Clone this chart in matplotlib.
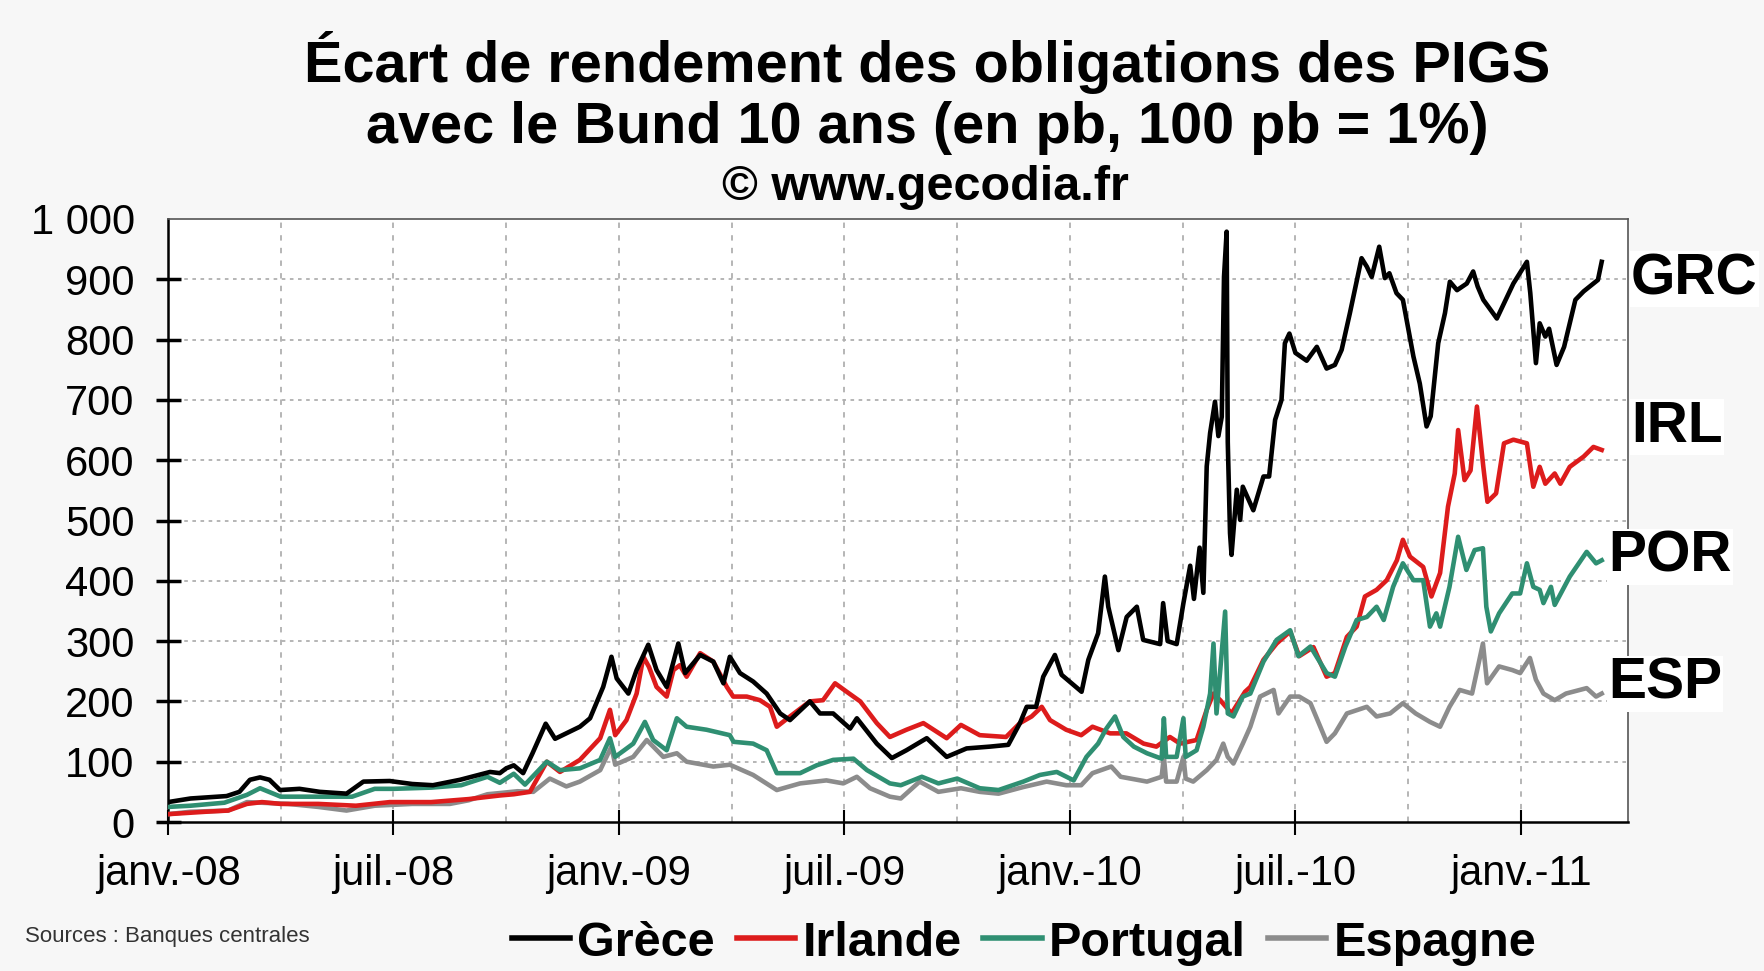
import matplotlib
matplotlib.use('Agg')
import matplotlib.pyplot as plt
import numpy as np

plt.rcParams['font.family'] = ['Liberation Sans', 'DejaVu Sans']

# x = mois écoulés depuis janv.-08
grc_x = [0.0, 0.6, 1.56, 1.9, 2.18, 2.45, 2.7, 2.98, 3.5, 4.04, 4.75, 5.2, 5.9, 6.5, 7.05, 7.77,
         8.57, 8.83, 9.0, 9.2, 9.45, 9.7, 10.05, 10.3, 10.96, 11.23, 11.58, 11.8, 11.94, 12.25,
         12.47, 12.78, 13.0, 13.27, 13.58, 13.76, 14.16, 14.51, 14.78, 14.95, 15.22, 15.57, 15.93,
         16.29, 16.55, 17.08, 17.35, 17.7, 18.15, 18.33, 18.86, 19.26, 19.65, 20.19, 20.72, 21.25,
         21.87, 22.36, 22.67, 22.85, 23.1, 23.29, 23.6, 23.78, 24.31, 24.49, 24.75, 24.93, 25.02,
         25.29, 25.51, 25.78, 25.95, 26.4, 26.48, 26.6, 26.84, 27.02, 27.2, 27.3, 27.45, 27.55,
         27.64, 27.73, 27.86, 27.95, 28.04, 28.1, 28.17, 28.2, 28.26, 28.3, 28.44, 28.53, 28.6,
         28.88, 29.15, 29.3, 29.46, 29.63, 29.72, 29.84, 30.0, 30.3, 30.57, 30.83, 31.05, 31.23,
         31.45, 31.76, 31.9, 32.03, 32.23, 32.38, 32.5, 32.69, 32.86, 33.14, 33.31, 33.49, 33.6,
         33.8, 33.98, 34.11, 34.3, 34.56, 34.73, 34.85, 35.0, 35.36, 35.8, 36.16, 36.25, 36.4,
         36.5, 36.65, 36.75, 36.95, 37.15, 37.45, 37.67, 37.93, 38.05, 38.15]
grc_y = [33, 39, 43, 50, 70, 74, 70, 53, 55, 50, 47, 67, 68, 63, 61, 70,
         83, 81, 89, 94, 81, 114, 163, 138, 158, 172, 224, 274, 238, 213,
         252, 294, 252, 224, 296, 247, 277, 266, 230, 274, 247, 233, 213,
         180, 169, 200, 180, 180, 155, 172, 130, 106, 119, 139, 108, 122,
         125, 128, 164, 191, 191, 241, 277, 244, 216, 269, 313, 407, 357,
         285, 340, 357, 302, 295, 363, 300, 295, 363, 425, 370, 455, 380,
         590, 645, 697, 640, 672, 904, 979, 630, 479, 443, 551, 501, 556,
         517, 573, 573, 667, 700, 794, 810, 778, 765, 788, 752, 758, 783,
         844, 935, 921, 904, 954, 902, 910, 877, 866, 772, 727, 656, 673,
         794, 844, 896, 882, 893, 913, 888, 866, 835, 893, 929, 877, 761,
         827, 805, 818, 758, 788, 866, 880, 893, 899, 929]

irl_x = [0, 0.5, 1.0, 1.6, 2.1, 2.5, 3.0, 4.0, 5.0, 5.9, 7.0, 8.0, 8.83, 9.2, 9.63, 10.08, 10.43,
         10.96, 11.5, 11.76, 11.9, 12.2, 12.47, 12.65, 12.8, 13.0, 13.27, 13.45, 13.62, 13.8,
         14.16, 14.51, 14.87, 15.04, 15.4, 15.75, 16.02, 16.2, 16.55, 17.08, 17.43, 17.75, 18.06,
         18.42, 18.86, 19.21, 19.65, 20.1, 20.72, 21.1, 21.6, 22.3, 22.67, 22.98, 23.25, 23.47,
         23.9, 24.3, 24.6, 25.07, 25.5, 25.96, 26.3, 26.66, 26.93, 27.37, 27.64, 27.82, 28.0,
         28.3, 28.66, 28.8, 29.15, 29.5, 29.86, 30.1, 30.48, 30.83, 31.05, 31.37, 31.63, 31.85,
         32.16, 32.43, 32.7, 32.86, 33.05, 33.4, 33.62, 33.85, 34.06, 34.24, 34.33, 34.5, 34.66,
         34.83, 35.0, 35.11, 35.34, 35.55, 35.8, 36.16, 36.33, 36.5, 36.65, 36.9, 37.05, 37.3,
         37.67, 37.93, 38.15]
irl_y = [13, 15, 17, 19, 30, 33, 30, 30, 27, 33, 33, 38, 44, 46, 50, 100, 83,
         103, 139, 186, 144, 169, 213, 274, 257, 224, 208, 252, 260, 241,
         280, 266, 224, 208, 208, 202, 191, 158, 175, 200, 202, 230, 216,
         200, 164, 141, 153, 164, 139, 161, 144, 141, 164, 175, 191, 169,
         153, 144, 158, 147, 147, 130, 125, 141, 130, 136, 186, 213, 202,
         180, 216, 224, 269, 296, 316, 275, 290, 241, 247, 307, 324, 374,
         385, 401, 434, 468, 440, 423, 374, 413, 523, 578, 650, 567, 583,
         689, 589, 531, 545, 628, 634, 628, 556, 589, 561, 578, 561, 589,
         606, 622, 617]

por_x = [0, 0.6, 1.5, 2.1, 2.45, 3.0, 4.0, 4.9, 5.5, 6.0, 7.0, 7.8, 8.5, 8.83, 9.2, 9.5, 10.08,
         10.43, 10.96, 11.5, 11.76, 11.9, 12.38, 12.69, 12.91, 13.27, 13.54, 13.8, 14.33, 14.95,
         15.05, 15.57, 15.93, 16.2, 16.82, 17.26, 17.7, 18.24, 18.6, 19.21, 19.5, 20.06, 20.5,
         21.0, 21.6, 22.1, 22.76, 23.2, 23.65, 24.1, 24.44, 24.75, 24.97, 25.2, 25.42, 25.7,
         26.05, 26.44, 26.5, 26.56, 26.84, 27.02, 27.08, 27.37, 27.55, 27.73, 27.82, 27.9, 28.0,
         28.13, 28.2, 28.35, 28.6, 28.8, 29.15, 29.5, 29.86, 30.08, 30.4, 30.83, 31.05, 31.33,
         31.63, 31.9, 32.16, 32.35, 32.6, 32.86, 33.14, 33.4, 33.58, 33.75, 33.85, 34.1, 34.33,
         34.55, 34.77, 34.99, 35.08, 35.2, 35.42, 35.77, 35.98, 36.16, 36.33, 36.5, 36.6, 36.8,
         36.9, 37.3, 37.75, 38.0, 38.15]
por_y = [25, 27, 32, 45, 56, 42, 42, 42, 55, 55, 57, 61, 75, 65, 80, 62, 100,
         86, 89, 103, 139, 108, 130, 166, 136, 119, 172, 158, 153, 144,
         133, 130, 119, 81, 81, 94, 103, 105, 86, 64, 61, 75, 64,
         72, 56, 53, 67, 78, 83, 69, 108, 130, 155, 175, 141, 125,
         114, 105, 172, 108, 108, 172, 108, 119, 158, 213, 296, 180, 252,
         349, 180, 175, 208, 213, 266, 302, 318, 275, 291, 247, 241, 291,
         335, 340, 357, 335, 390, 429, 401, 401, 324, 346, 324, 390, 473,
         418, 451, 454, 357, 316, 346, 379, 379, 429, 390, 385, 363, 390,
         360, 407, 448, 429, 434]

esp_x = [0, 0.6, 1.6, 2.1, 3.2, 4.0, 4.75, 5.5, 6.5, 7.5, 8.0, 8.5, 8.83, 9.3, 9.72, 10.16, 10.6,
         10.96, 11.5, 11.8, 11.9, 12.38, 12.74, 13.18, 13.54, 13.8, 14.51, 14.95, 15.57, 16.2,
         16.82, 17.52, 17.97, 18.33, 18.68, 19.21, 19.5, 20.0, 20.5, 21.1, 21.6, 22.1, 22.76,
         23.38, 23.9, 24.3, 24.6, 25.1, 25.35, 26.05, 26.44, 26.5, 26.56, 26.84, 27.02, 27.08,
         27.28, 27.64, 27.9, 28.08, 28.2, 28.35, 28.6, 28.8, 29.06, 29.42, 29.55, 29.86, 30.1,
         30.4, 30.83, 31.05, 31.37, 31.9, 32.16, 32.52, 32.86, 33.2, 33.58, 33.85, 34.1, 34.37,
         34.7, 34.99, 35.1, 35.42, 35.77, 35.98, 36.24, 36.4, 36.6, 36.9, 37.2, 37.75, 38.0, 38.15]
esp_y = [13, 17, 19, 33, 30, 25, 19, 27, 30, 30, 36, 46, 48, 51, 50, 72, 59,
         67, 86, 125, 95, 108, 136, 108, 114, 100, 92, 95, 78, 53,
         64, 69, 64, 75, 56, 42, 39, 67, 50, 56, 50, 47, 58,
         67, 61, 61, 81, 92, 75, 67, 75, 108, 67, 67, 108, 72,
         67, 86, 103, 130, 108, 97, 130, 158, 208, 219, 180, 208, 208,
         197, 133, 147, 180, 191, 175, 180, 197, 180, 166, 158, 191, 219,
         213, 296, 230, 258, 252, 247, 272, 236, 213, 202, 213, 222, 208, 213]

mois_ticks = [0, 6, 12, 18, 24, 30, 36]
mois_labels = ['janv.-08', 'juil.-08', 'janv.-09', 'juil.-09', 'janv.-10', 'juil.-10', 'janv.-11']
y_ticks = [0, 100, 200, 300, 400, 500, 600, 700, 800, 900, 1000]
y_labels = ['0', '100', '200', '300', '400', '500', '600', '700', '800', '900', '1 000']

fig = plt.figure(figsize=(17.64, 9.71), dpi=100)
fig.patch.set_facecolor('#f7f7f7')
ax = fig.add_axes([168 / 1764, 1 - 822 / 971, 1460 / 1764, 603 / 971])
ax.set_facecolor('white')

lw = 3.3
ax.plot(esp_x, esp_y, color='#8c8c8c', lw=lw, label='Espagne', zorder=3)
ax.plot(irl_x, irl_y, color='#dd1c1c', lw=lw, label='Irlande', zorder=4)
ax.plot(por_x, por_y, color='#2f8f72', lw=lw, label='Portugal', zorder=5)
ax.plot(grc_x, grc_y, color='black', lw=lw, label='Grèce', zorder=6)

ax.set_xlim(0, 38.85)
ax.set_ylim(0, 1000)

# grille
for v in range(100, 1000, 100):
    ax.axhline(v, color='#b0b0b0', lw=1.3, ls=(0, (2, 2.5)), zorder=1)
for m in range(3, 39, 3):
    ax.axvline(m, color='#b0b0b0', lw=1.3, ls=(0, (3, 4)), zorder=1)

ax.set_xticks(mois_ticks)
ax.set_xticklabels(mois_labels, fontsize=30)
ax.set_yticks(y_ticks)
ax.set_yticklabels(y_labels, fontsize=30)
ax.tick_params(axis='x', direction='inout', length=18, width=1.5, pad=14, colors='black')
ax.tick_params(axis='y', direction='inout', length=18, width=2.5, pad=15, colors='black')
ax.yaxis.get_major_ticks()[-1].tick1line.set_visible(False)

for s in ['left', 'bottom']:
    ax.spines[s].set_color('black')
    ax.spines[s].set_linewidth(1.8)
for s in ['top', 'right']:
    ax.spines[s].set_color('#555555')
    ax.spines[s].set_linewidth(1.2)

# étiquettes à droite
etiquettes = [('GRC', 38.93, 900), ('IRL', 38.93, 655), ('POR', 38.32, 440), ('ESP', 38.32, 229)]
for txt, xx, yy in etiquettes:
    ax.text(xx, yy, txt, fontsize=41, fontweight='bold', ha='left', va='center', clip_on=False,
            zorder=10, bbox=dict(facecolor='white', edgecolor='none', pad=1))

# titre
fig.text(0.5255, 1 - 63 / 971, 'Écart de rendement des obligations des PIGS', ha='center', va='center',
         fontsize=41.5, fontweight='bold')
fig.text(0.5255, 1 - 128 / 971, 'avec le Bund 10 ans (en pb, 100 pb = 1%)', ha='center', va='center',
         fontsize=41.5, fontweight='bold')
fig.text(0.5245, 1 - 188 / 971, '© www.gecodia.fr', ha='center', va='center', fontsize=35, fontweight='bold')

fig.text(25 / 1764, 1 - 936 / 971, 'Sources : Banques centrales', ha='left', va='center', fontsize=16,
         color='#333333')

h, l = ax.get_legend_handles_labels()
ordre = [3, 1, 2, 0]
leg = fig.legend([h[i] for i in ordre], [l[i] for i in ordre], loc='center', bbox_to_anchor=(0.5805, 1 - 943 / 971),
                 ncol=4, frameon=False, prop={'size': 35, 'weight': 'bold'}, handlelength=1.2,
                 handletextpad=0.15, columnspacing=0.45, borderaxespad=0)
for ln in leg.get_lines():
    ln.set_linewidth(4)

fig.savefig('out.png', dpi=100, facecolor=fig.get_facecolor())
